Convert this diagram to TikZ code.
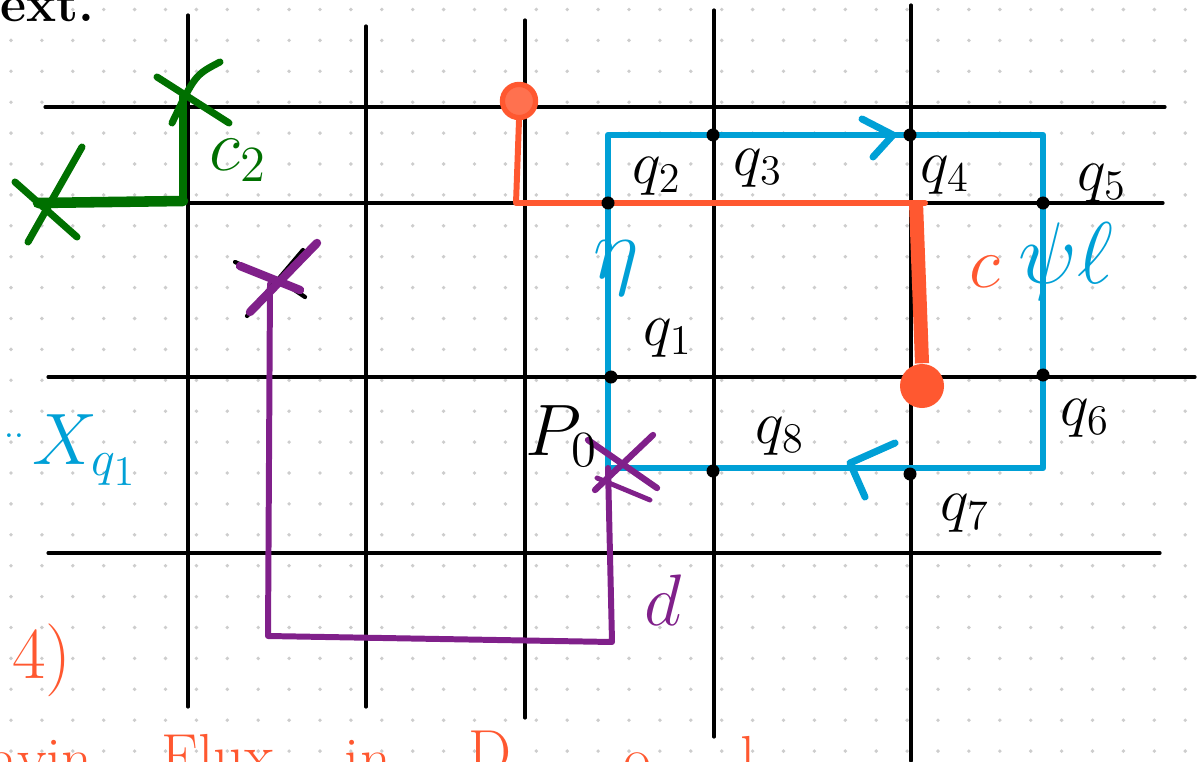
\documentclass[tikz,border=0pt]{standalone}
\usepackage{amsmath,amssymb}
\usetikzlibrary{positioning,calc}

\definecolor{inkblue}{RGB}{0,160,214}
\definecolor{inkorange}{RGB}{255,88,48}
\definecolor{inkgreen}{RGB}{0,112,0}
\definecolor{inkpurple}{RGB}{128,32,138}
\definecolor{dotgray}{RGB}{205,205,205}

\begin{document}
\begin{tikzpicture}[
  x=0.01cm, y=-0.01cm,
  gridline/.style={draw, line width=0.9pt, line cap=round},
  loopline/.style={draw=inkblue, line width=1.8pt, line join=round},
  inkline/.style={line width=1.7pt, line cap=round, line join=round},
  qdot/.style={circle, fill=black, inner sep=0pt, minimum size=0.13cm},
  qlabel/.style={font=\LARGE, inner sep=0pt},
  ink/.style={font=\huge, inner sep=0pt},
  cuttext/.style={font=\LARGE, text=inkorange, inner sep=0pt, anchor=north},
]
  \useasboundingbox (0,0) rectangle (1198,761);
  \clip (0,0) rectangle (1198,761);

  % ===== dotted paper =====
  \foreach \i in {0,...,38}
    \foreach \j in {0,...,24}
      \fill[dotgray] ({11+30.9*\i},{9.5+30.9*\j}) circle (0.55pt);

  % ===== lattice =====
  \draw[gridline] (45,107) -- (1165,107);
  \draw[gridline] (45,203) -- (1163,203);
  \draw[gridline] (48,377) -- (1195,377);
  \draw[gridline] (48,553) -- (1160,553);
  \draw[gridline] (188,15) -- (188,707);
  \draw[gridline] (366,26) -- (366,707);
  \draw[gridline] (525,20) -- (525,718);
  \draw[gridline] (714,10) -- (714,737);
  \draw[gridline] (911,5) -- (911,761);

  % ===== blue loop =====
  \coordinate (lt) at (608,135);
  \coordinate (rt) at (1043,135);
  \coordinate (rb) at (1043,468);
  \coordinate (lb) at (608,468);
  \draw[loopline] (lt) -- (rt) -- (rb) -- (lb) -- cycle;
  % direction marks
  \draw[inkline, inkblue, line width=2pt] (862,119) -- (893,135) -- (873,157);
  \draw[inkline, inkblue, line width=2pt] (895,443) -- (850,463) -- (865,497);

  % ===== orange path c =====
  \node[circle, draw=inkorange, fill=inkorange!85, line width=1.5pt,
        minimum size=0.24cm] (cs) at (519,101) {};
  \node[circle, fill=inkorange, minimum size=0.44cm] (ce) at (922,386) {};
  \coordinate (cbend) at (516,203);
  \coordinate (ctop) at (925,203);
  \coordinate (cdrop) at (916,203);
  \draw[inkline, inkorange] (cs.south) -- (cbend) -- (ctop);
  \draw[inkorange, line width=4pt] (cdrop) -- (ce.north);

  % ===== sites =====
  \node[qdot] (q1) at (611,377) {};
  \node[qdot] (q2) at (608,203) {};
  \node[qdot] (q3) at (713,135) {};
  \node[qdot] (q4) at (910,135) {};
  \node[qdot] (q5) at (1043,203) {};
  \node[qdot] (q6) at (1043,375) {};
  \node[qdot] (q7) at (910,474) {};
  \node[qdot] (q8) at (713,471) {};

  \node[qlabel] at (668,338) {$q_1$};
  \node[qlabel] at (657,176) {$q_2$};
  \node[qlabel] at (758,168) {$q_3$};
  \node[qlabel] at (945,175) {$q_4$};
  \node[qlabel] at (1102,183) {$q_5$};
  \node[qlabel] at (1085,418) {$q_6$};
  \node[qlabel] at (965,513) {$q_7$};
  \node[qlabel] at (780,436) {$q_8$};

  % ===== green c2 =====
  \coordinate (gtop) at (183,96);
  \coordinate (gcorner) at (183,201);
  \coordinate (gleft) at (38,203);
  \draw[inkline, inkgreen, line width=2pt] (gtop) -- (gcorner);
  \draw[inkline, inkgreen, line width=3pt] (gcorner) -- (gleft);
  \draw[inkline, inkgreen, line width=2pt] (157,77) -- (229,123);
  \draw[inkline, inkgreen, line width=2pt] (220,62) .. controls (195,75) .. (172,123);
  \draw[inkline, inkgreen, line width=2pt] (82,147) -- (28,242);
  \draw[inkline, inkgreen, line width=2pt] (15,182) -- (77,237);
  \node[ink, text=inkgreen] (c2lbl) at (238,160) {$c_2$};

  % ===== purple d =====
  \coordinate (ptop) at (270,284);
  \coordinate (pbl) at (268,636);
  \coordinate (pbr) at (612,642);
  \draw[inkline, inkpurple] (ptop) -- (pbl) -- (pbr) -- (lb);
  \draw[inkline, black, line width=1.2pt] (235,262) -- (290,287) -- (305,297);
  \draw[inkline, black, line width=1.2pt] (247,316) -- (303,250);
  \draw[inkline, inkpurple, line width=2.4pt] (240,266) -- (300,290);
  \draw[inkline, inkpurple, line width=2.4pt] (250,312) -- (317,243);
  \draw[inkline, inkpurple, line width=1.8pt] (588,440) -- (657,488);
  \draw[inkline, inkpurple, line width=1.8pt] (595,490) -- (653,435);
  \draw[inkline, inkpurple, line width=1.4pt] (597,478) -- (650,500);
  \node[ink, text=inkpurple] (dlbl) at (663,600) {$d$};
  \node[ink] (p0lbl) at (562,436) {$P_0$};

  % ===== loop labels =====
  \node[ink, text=inkorange] (clbl) at (985,272) {$c$};
  \node[ink, text=inkblue, font=\Huge] (etalbl) at (616,268) {$\eta$};
  \node[ink, text=inkblue, font=\Huge] (psilbl) at (1066,262) {$\psi\ell$};

  % ===== side notes =====
  \node[inner sep=0pt, text=inkblue] at (14,436) {..};
  \node[ink, text=inkblue] (xlbl) at (85,450) {$X_{q_1}$};
  \node[ink, text=inkorange] at (42,660) {4)};
  \node[font=\Large\bfseries, inner sep=0pt, anchor=base east] at (95,22) {ext.};

  % ===== caption, cut off at the bottom =====
  \node[cuttext] at (42,740) {avin};
  \node[cuttext] at (218,734) {Flux};
  \node[cuttext] at (368,740) {in};
  \node[cuttext] at (490,730) {D};
  \node[cuttext] at (637,752) {o};
  \node[cuttext] at (748,736) {l};
\end{tikzpicture}
\end{document}
